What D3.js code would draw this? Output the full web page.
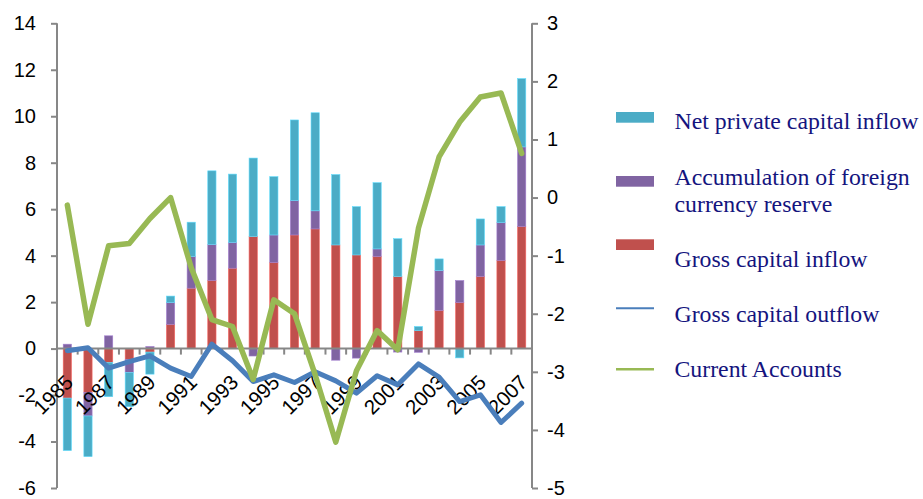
<!DOCTYPE html>
<html>
<head>
<meta charset="utf-8">
<script src="https://cdn.jsdelivr.net/npm/d3@7/dist/d3.min.js"></script>
<style>
  html, body { margin: 0; padding: 0; background: #ffffff; }
  svg { display: block; }
</style>
</head>
<body>
<svg id="chart" width="923" height="499"></svg>
<script>
// Capital flows, 1985–2007 (bars on the left axis, current account on the right axis)
const years = d3.range(1985, 2008);
const yearTicks = [1985, 1987, 1989, 1991, 1993, 1995, 1997, 1999, 2001, 2003, 2005, 2007];
const leftTicks = [-6, -4, -2, 0, 2, 4, 6, 8, 10, 12, 14];
const rightTicks = [-5, -4, -3, -2, -1, 0, 1, 2, 3];

const grossInflow = [-2.13, -1.88, -0.60, -0.46, -0.15, 1.04, 2.60, 2.93, 3.46, 4.82, 3.70, 4.89,
                     5.15, 4.46, 4.03, 3.96, 3.10, 0.77, 1.64, 1.98, 3.10, 3.79, 5.25];
const reserveAccumulation = [0.19, -1.02, 0.55, -0.57, 0.09, 0.94, 1.36, 1.55, 1.11, -0.32, 1.19, 1.48,
                             0.78, -0.50, -0.41, 0.33, -0.15, -0.16, 1.72, 0.95, 1.36, 1.63, 3.43];
const netPrivateInflow = [-2.26, -1.75, -1.47, -1.47, -0.95, 0.28, 1.48, 3.17, 2.94, 3.38, 2.51, 3.47,
                          4.22, 3.03, 2.08, 2.85, 1.63, 0.18, 0.50, -0.40, 1.12, 0.69, 2.94];
const grossOutflow = [-0.09, 0.04, -0.84, -0.56, -0.31, -0.84, -1.20, 0.19, -0.52, -1.42, -1.13, -1.46,
                      -1.00, -1.39, -1.92, -1.17, -1.56, -0.66, -1.23, -2.28, -1.99, -3.18, -2.35];
const currentAccount = [-0.13, -2.18, -0.83, -0.79, -0.36, 0.00, -1.21, -2.10, -2.22, -3.13, -1.76, -2.00,
                        -3.05, -4.21, -2.98, -2.29, -2.62, -0.53, 0.70, 1.30, 1.73, 1.80, 0.76];

const barSeries = [
  { name: "Gross capital inflow", values: grossInflow, color: "#c0504d" },
  { name: "Accumulation of foreign currency reserve", values: reserveAccumulation, color: "#8064a2" },
  { name: "Net private capital inflow", values: netPrivateInflow, color: "#4bacc6" }
];

const svg = d3.select("#chart");
const plot = { left: 57, right: 532, top: 23.3, bottom: 488 };
const axisColor = "#878787";
const labelFont = "'Liberation Sans', Arial, sans-serif";
const legendFont = "'Liberation Serif', 'Times New Roman', serif";
const plainNumber = d => String(d);   // ASCII hyphen for negatives

const x = d3.scaleBand().domain(years).range([plot.left, plot.right]).paddingInner(0.6).paddingOuter(0.3);
const yL = d3.scaleLinear().domain([-6, 14]).range([plot.bottom, plot.top]);
const yR = d3.scaleLinear().domain([-5, 3]).range([plot.bottom, plot.top]);

// Stacked columns: positives stack upward, negatives stack downward
const rows = years.map((yr, i) => {
  const row = { year: yr };
  barSeries.forEach((s, k) => { row["s" + k] = s.values[i]; });
  return row;
});
const stack = d3.stack()
  .keys(barSeries.map((s, k) => "s" + k))
  .offset(d3.stackOffsetDiverging);
const stacked = stack(rows);

const bars = svg.append("g");
stacked.forEach((layer, k) => {
  bars.selectAll(null)
    .data(layer)
    .join("rect")
    .attr("x", d => x(d.data.year))
    .attr("width", x.bandwidth())
    .attr("y", d => yL(Math.max(d[0], d[1])))
    .attr("height", d => Math.abs(yL(d[0]) - yL(d[1])))
    .attr("fill", barSeries[k].color)
    .attr("stroke", d3.color(barSeries[k].color).brighter(0.7))
    .attr("stroke-width", 0.6);
});

// Left axis
const leftAxis = svg.append("g").attr("transform", `translate(${plot.left},0)`)
  .call(d3.axisLeft(yL).tickValues(leftTicks).tickSize(6).tickPadding(15).tickFormat(plainNumber));
// Right axis
const rightAxis = svg.append("g").attr("transform", `translate(${plot.right},0)`)
  .call(d3.axisRight(yR).tickValues(rightTicks).tickSize(6).tickPadding(9).tickFormat(plainNumber));
[leftAxis, rightAxis].forEach(g => {
  g.select(".domain").attr("stroke", axisColor).attr("stroke-width", 2)
    .attr("d", `M0,${plot.top}V${plot.bottom}`);
  g.selectAll(".tick line").attr("stroke", axisColor).attr("stroke-width", 2);
  g.selectAll(".tick text").attr("fill", "#000").style("font-family", labelFont).style("font-size", "20px");
});
rightAxis.selectAll(".tick text").attr("text-anchor", "start");

// Category axis along the zero line
const zeroY = yL(0);
const catAxis = svg.append("g");
catAxis.append("line")
  .attr("x1", plot.left).attr("x2", plot.right)
  .attr("y1", zeroY).attr("y2", zeroY)
  .attr("stroke", axisColor).attr("stroke-width", 2);
const step = x.step();
catAxis.selectAll(".ctick")
  .data(d3.range(1, years.length + 1))
  .join("line")
  .attr("class", "ctick")
  .attr("x1", i => plot.left + i * step).attr("x2", i => plot.left + i * step)
  .attr("y1", zeroY).attr("y2", zeroY + 6)
  .attr("stroke", axisColor).attr("stroke-width", 2);
catAxis.selectAll(".clabel")
  .data(yearTicks)
  .join("text")
  .attr("class", "clabel")
  .attr("transform", d => `translate(${x(d) + x.bandwidth() / 2 + 7},${zeroY + 35}) rotate(-45)`)
  .attr("text-anchor", "end")
  .style("font-family", labelFont)
  .style("font-size", "20.5px")
  .attr("fill", "#000")
  .text(d => d);

// Lines
const cx = (d, i) => x(years[i]) + x.bandwidth() / 2;
svg.append("path")
  .datum(grossOutflow)
  .attr("d", d3.line().x(cx).y(d => yL(d)))
  .attr("fill", "none")
  .attr("stroke", "#4a7ebb")
  .attr("stroke-width", 5)
  .attr("stroke-linejoin", "round")
  .attr("stroke-linecap", "round");
svg.append("path")
  .datum(currentAccount)
  .attr("d", d3.line().x(cx).y(d => yR(d)))
  .attr("fill", "none")
  .attr("stroke", "#98b954")
  .attr("stroke-width", 5.5)
  .attr("stroke-linejoin", "round")
  .attr("stroke-linecap", "round");

// Legend
const legend = svg.append("g");
const swX = 616, swW = 38, txtX = 674.5;
const legendItems = [
  { kind: "rect", color: "#4bacc6", y: 112, lines: ["Net private capital inflow"], base: 129.3 },
  { kind: "rect", color: "#8064a2", y: 176, lines: ["Accumulation of foreign", "currency reserve"], base: 185 },
  { kind: "rect", color: "#c0504d", y: 239.3, lines: ["Gross capital inflow"], base: 266.7 },
  { kind: "line", color: "#4a7ebb", y: 308.3, lines: ["Gross capital outflow"], base: 322.3, w: 2 },
  { kind: "line", color: "#98b954", y: 369.3, lines: ["Current Accounts"], base: 377.3, w: 2.5 }
];
legendItems.forEach(it => {
  if (it.kind === "rect") {
    legend.append("rect").attr("x", swX).attr("y", it.y).attr("width", swW).attr("height", 10.7).attr("fill", it.color);
  } else {
    legend.append("line").attr("x1", swX).attr("x2", swX + swW).attr("y1", it.y).attr("y2", it.y)
      .attr("stroke", it.color).attr("stroke-width", it.w);
  }
  it.lines.forEach((t, j) => {
    legend.append("text")
      .attr("x", txtX).attr("y", it.base + j * 26.7)
      .style("font-family", legendFont)
      .style("font-size", "23.8px")
      .attr("fill", "#14147e")
      .text(t);
  });
});
</script>
</body>
</html>
